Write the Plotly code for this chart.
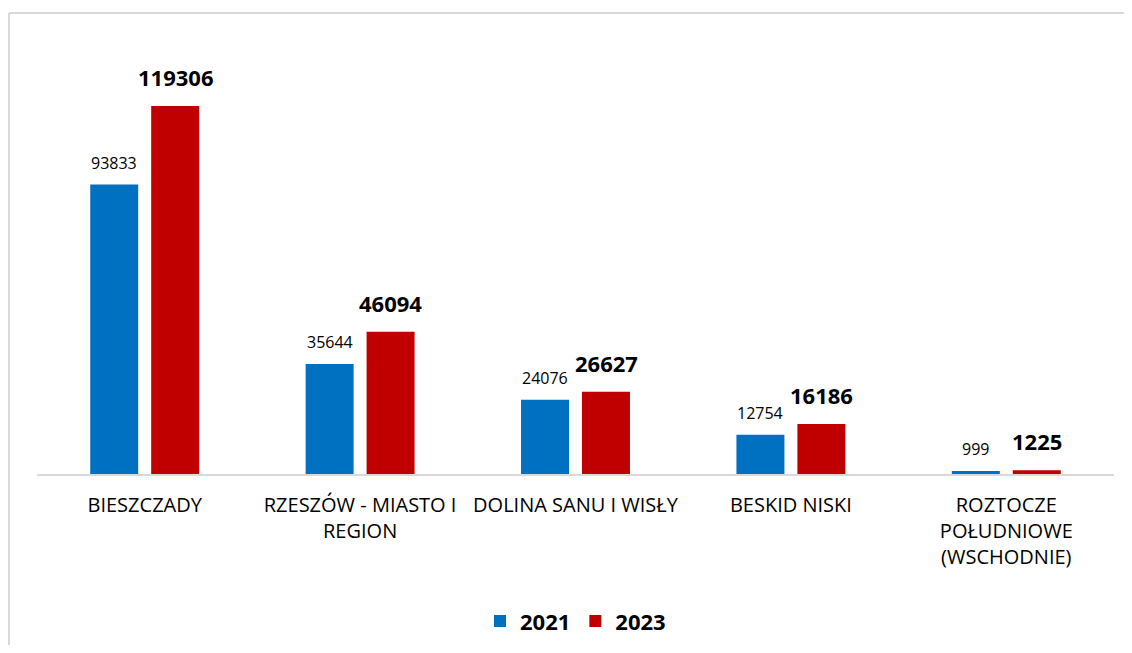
import plotly.graph_objects as go

regions = ["BIESZCZADY", "RZESZÓW - MIASTO I<br>REGION", "DOLINA SANU I WISŁY",
           "BESKID NISKI", "ROZTOCZE<br>POŁUDNIOWE<br>(WSCHODNIE)"]
v2021 = [93833, 35644, 24076, 12754, 999]
v2023 = [119306, 46094, 26627, 16186, 1225]

font = "Open Sans"
fig = go.Figure()
fig.add_trace(go.Bar(x=regions, y=v2021, name="2021",
                     marker=dict(color="#0070C0", line=dict(width=0))))
fig.add_trace(go.Bar(x=regions, y=v2023, name="2023",
                     marker=dict(color="#C00000", line=dict(width=0))))

# value labels above the bars (offset to each bar of the group)
ann = []
for r, a, b in zip(regions, v2021, v2023):
    ann.append(dict(x=r, y=a, text=str(a), showarrow=False, xshift=-30.5,
                    yanchor="bottom", yshift=9,
                    font=dict(family=font, size=16, color="black")))
    ann.append(dict(x=r, y=b, text=f"<b>{b}</b>", showarrow=False, xshift=30.5,
                    yanchor="bottom", yshift=12,
                    font=dict(family=font, size=22, color="black")))

border = dict(color="#d9d9d9", width=2)
fig.update_layout(
    width=1116, height=637,
    margin=dict(l=29, r=10, t=32, b=171, autoexpand=False),
    barmode="group", bargap=0.434, bargroupgap=0.213,
    plot_bgcolor="white", paper_bgcolor="white",
    font=dict(family=font, size=20, color="black"),
    xaxis=dict(showline=True, linecolor="#d9d9d9", linewidth=2, ticks="",
               tickfont=dict(size=20), showgrid=False, ticklabelstandoff=12),
    yaxis=dict(visible=False, range=[0, 140700], showgrid=False),
    legend=dict(orientation="h", x=0.5, xanchor="center", y=-0.339, yanchor="middle",
                font=dict(family=font, size=22, weight="bold"), itemwidth=30),
    annotations=ann,
    shapes=[
        dict(type="line", xref="paper", yref="paper",
             x0=-0.0260, x1=1.05, y0=1.062, y1=1.062, line=border, layer="below"),
        dict(type="line", xref="paper", yref="paper",
             x0=-0.0260, x1=-0.0260, y0=-0.6, y1=1.062, line=border, layer="below"),
    ],
)

fig.write_html("out.html")
